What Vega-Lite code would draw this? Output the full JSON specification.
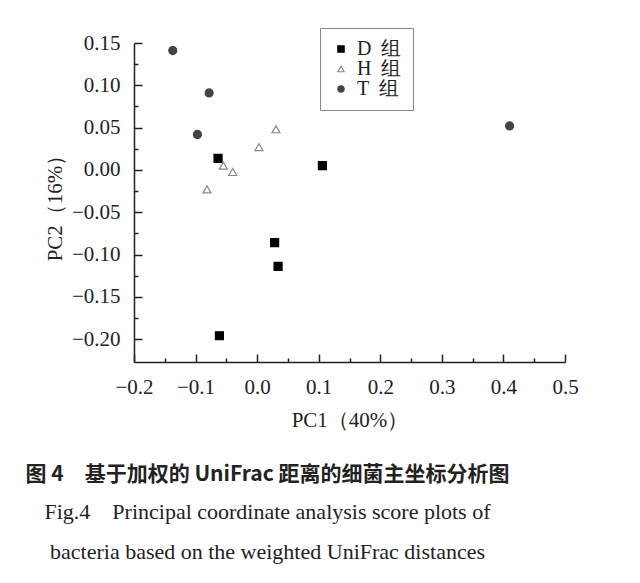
{
  "$schema": "https://vega.github.io/schema/vega-lite/v6.json",
  "width": 431,
  "height": 319,
  "autosize": "none",
  "padding": {"left": 134, "top": 43, "right": 75, "bottom": 221},
  "background": "white",
  "config": {
    "view": {"stroke": null},
    "font": "Liberation Serif",
    "axis": {
      "labelFontSize": 21,
      "labelColor": "#222",
      "labelFlush": false,
      "labelOverlap": false,
      "grid": false,
      "domainColor": "#222",
      "domainWidth": 1.5,
      "tickColor": "#222",
      "tickWidth": 1.5,
      "titleFontSize": 21,
      "titleFontWeight": "normal",
      "titleColor": "#222"
    },
    "legend": {
      "orient": "none",
      "legendX": 186,
      "legendY": -15,
      "padding": 11,
      "strokeColor": "#888",
      "fillColor": "white",
      "labelFont": "Liberation Serif",
      "labelFontSize": 20,
      "labelColor": "#222",
      "labelOffset": 6,
      "symbolSize": 40,
      "symbolOffset": 0,
      "symbolStrokeWidth": 1.2,
      "rowPadding": 0
    }
  },
  "title": {
    "text": "图 4　基于加权的 UniFrac 距离的细菌主坐标分析图",
    "orient": "bottom",
    "anchor": "middle",
    "dx": -82,
    "offset": 34,
    "font": "Noto Sans CJK SC",
    "fontSize": 21,
    "fontWeight": "bold",
    "color": "#222",
    "subtitle": ["Fig.4\u2003Principal coordinate analysis score plots of", "bacteria based on the weighted UniFrac distances"],
    "subtitleFont": "Liberation Serif",
    "subtitleFontSize": 22,
    "subtitleColor": "#222",
    "subtitleLineHeight": 40,
    "subtitlePadding": 17
  },
  "data": {
    "values": [
      {"group": "D 组", "pc1": -0.0635, "pc2": 0.0137},
      {"group": "D 组", "pc1": 0.106, "pc2": 0.005},
      {"group": "D 组", "pc1": 0.0284, "pc2": -0.086},
      {"group": "D 组", "pc1": 0.034, "pc2": -0.114},
      {"group": "D 组", "pc1": -0.0613, "pc2": -0.196},
      {"group": "H 组", "pc1": 0.0305, "pc2": 0.048},
      {"group": "H 组", "pc1": 0.003, "pc2": 0.027},
      {"group": "H 组", "pc1": -0.055, "pc2": 0.005},
      {"group": "H 组", "pc1": -0.0397, "pc2": -0.0025},
      {"group": "H 组", "pc1": -0.0814, "pc2": -0.023},
      {"group": "T 组", "pc1": -0.137, "pc2": 0.141},
      {"group": "T 组", "pc1": -0.078, "pc2": 0.091},
      {"group": "T 组", "pc1": -0.097, "pc2": 0.042},
      {"group": "T 组", "pc1": 0.41, "pc2": 0.052}
    ]
  },
  "resolve": {"axis": {"x": "independent", "y": "independent"}},
  "layer": [
    {
      "mark": {"type": "point", "filled": true, "opacity": 0},
      "encoding": {
        "x": {
          "field": "pc1",
          "type": "quantitative",
          "scale": {"domain": [-0.2, 0.5], "nice": false, "zero": false},
          "axis": {
            "orient": "bottom",
            "title": null,
            "values": [-0.15, -0.05, 0.05, 0.15, 0.25, 0.35, 0.45],
            "labels": false,
            "domain": false,
            "tickSize": -4
          }
        },
        "y": {
          "field": "pc2",
          "type": "quantitative",
          "scale": {"domain": [-0.227, 0.15], "nice": false, "zero": false},
          "axis": {
            "orient": "left",
            "title": null,
            "values": [-0.175, -0.125, -0.075, -0.025, 0.025, 0.075, 0.125],
            "labels": false,
            "domain": false,
            "tickSize": -4
          }
        }
      }
    },
    {
      "mark": {"type": "point", "filled": true, "size": 64, "strokeWidth": 1.2, "opacity": 1},
      "encoding": {
        "x": {
          "field": "pc1",
          "type": "quantitative",
          "axis": {
            "orient": "bottom",
            "title": "PC1（40%）",
            "values": [-0.2, -0.1, 0, 0.1, 0.2, 0.3, 0.4, 0.5],
            "format": ".1f",
            "tickSize": -8,
            "labelPadding": 22,
            "titlePadding": 12
          }
        },
        "y": {
          "field": "pc2",
          "type": "quantitative",
          "axis": {
            "orient": "left",
            "title": "PC2（16%）",
            "values": [-0.2, -0.15, -0.1, -0.05, 0, 0.05, 0.1, 0.15],
            "format": ".2f",
            "tickSize": -8,
            "labelPadding": 22,
            "titlePadding": 6
          }
        },
        "shape": {
          "field": "group",
          "type": "nominal",
          "scale": {"domain": ["D 组", "H 组", "T 组"], "range": ["square", "triangle-up", "circle"]},
          "legend": {"title": null, "labelExpr": "replace(datum.label, ' ', '\u2002')"}
        },
        "fill": {
          "field": "group",
          "type": "nominal",
          "scale": {"domain": ["D 组", "H 组", "T 组"], "range": ["#000000", "#ffffff", "#444444"]},
          "legend": {"title": null, "labelExpr": "replace(datum.label, ' ', '\u2002')"}
        },
        "stroke": {
          "field": "group",
          "type": "nominal",
          "scale": {"domain": ["D 组", "H 组", "T 组"], "range": ["#000000", "#888888", "#444444"]},
          "legend": {"title": null, "labelExpr": "replace(datum.label, ' ', '\u2002')"}
        }
      }
    }
  ]
}
